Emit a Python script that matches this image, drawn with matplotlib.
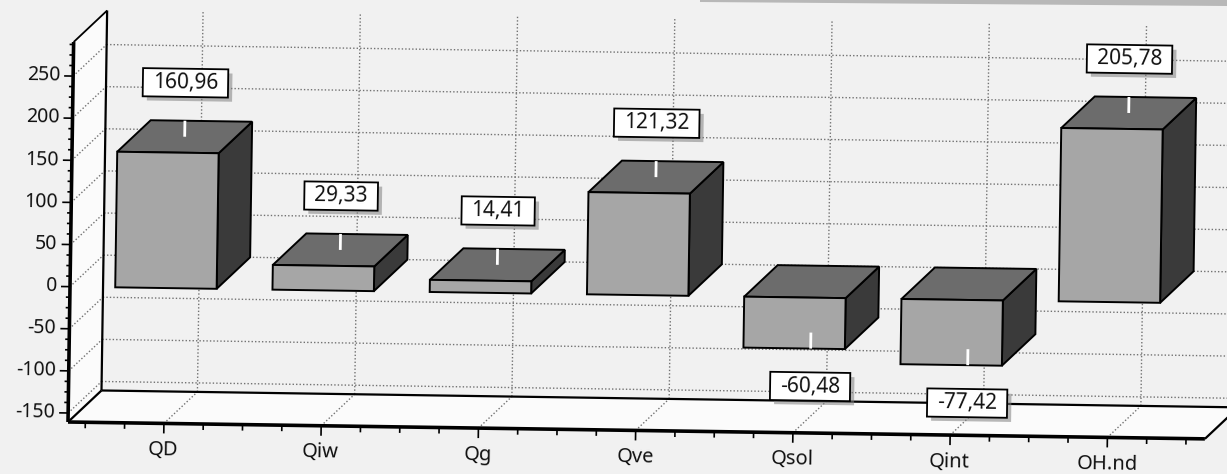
import matplotlib
matplotlib.use("Agg")
import matplotlib.pyplot as plt
import matplotlib.patheffects as pe
from matplotlib.patches import Polygon
from matplotlib.transforms import Affine2D
import numpy as np

categories = ['QD', 'Qiw', 'Qg', 'Qve', 'Qsol', 'Qint', 'OH.nd']
values = [160.96, 29.33, 14.41, 121.32, -60.48, -77.42, 205.78]
y_ticks = [-150, -100, -50, 0, 50, 100, 150, 200, 250]

plt.rcParams['font.family'] = ['Noto Sans', 'DejaVu Sans']

W, H = 1227, 474
fig = plt.figure(figsize=(W / 100, H / 100), dpi=100, facecolor='#f1f1f1')
ax = fig.add_axes([68 / W, 52 / H, 1137 / W, 380 / H])
x0, x1 = -0.61, 6.62
y0, y1 = -160.7, 290.4
ax.set_xlim(x0, x1)
ax.set_ylim(y0, y1)
ax.axis('off')

# the whole sheet is a little tilted
ang = -0.85
tilt = Affine2D().rotate_deg_around(68, 52, ang)
T = ax.transData + tilt

# depth of the 3d box (data units)
dx, dy = 0.21, 38.0


def poly(pts, **kw):
    ax.add_patch(Polygon(pts, closed=True, transform=T, clip_on=False, **kw))


def line(xs, ys, **kw):
    ax.plot(xs, ys, transform=T, clip_on=False, solid_capstyle='butt', **kw)


# walls
poly([(x0, y0), (x0, y1), (x0 + dx, y1 + dy), (x0 + dx, y0 + dy)], fc='#fbfbfb', ec='none', zorder=0.5)
poly([(x0, y0), (x1, y0), (x1 + dx, y0 + dy), (x0 + dx, y0 + dy)], fc='#fbfbfb', ec='none', zorder=0.5)

# dotted grid
grid = dict(color='#727272', lw=1.0, ls=(0, (1, 1.5)), zorder=1)
for t in y_ticks:
    line([x0, x0 + dx], [t, t + dy], **grid)
    line([x0 + dx, x1 + dx], [t + dy, t + dy], **grid)
for i in range(len(categories)):
    line([i, i + dx], [y0, y0 + dy], **grid)
    line([i + dx, i + dx], [y0 + dy, y1 + dy], **grid)

# frame edges
line([x0, x0], [y0, y1], color='k', lw=2.6, zorder=1.5)
line([x0, x0 + dx], [y1, y1 + dy], color='k', lw=1.3, zorder=1.5)
line([x0 + dx, x0 + dx], [y0 + dy, y1 + dy], color='k', lw=1.6, zorder=1.5)
line([x0, x0 + dx], [y0, y0 + dy], color='k', lw=1.6, zorder=1.5)
line([x0, x1], [y0, y0], color='k', lw=2.6, zorder=1.5)
line([x0 + dx, x1 + dx], [y0 + dy, y0 + dy], color='k', lw=1.6, zorder=1.5)
line([x1, x1 + dx], [y0, y0 + dy], color='k', lw=1.6, zorder=1.5)

# y ticks
px_x = 1137 / (x1 - x0)
px_y = 380 / (y1 - y0)
for t in np.arange(-150, 290, 12.5):
    ln = 9 if t in y_ticks else 4
    line([x0 - ln / px_x, x0], [t, t], color='k', lw=1.2, zorder=1.5)
for t in y_ticks:
    ax.text(x0 - 13 / px_x, t, str(t), transform=T, ha='right', va='center',
            fontsize=14, color='#111111', rotation=ang, rotation_mode='anchor')

# x ticks
for k in np.arange(-0.5, 6.51, 0.25):
    ln = 10 if abs(k - round(k)) < 1e-9 else 6
    line([k, k], [y0, y0 - ln / px_y], color='k', lw=1.2, zorder=1.5)
for i, c in enumerate(categories):
    ax.text(i, y0 - 17 / px_y, c, transform=T, ha='center', va='top',
            fontsize=14.5, color='#111111', rotation=ang, rotation_mode='anchor')

# bars
w = 0.645
front, top, side = '#a6a6a6', '#6c6c6c', '#3a3a3a'
edge = dict(ec='k', lw=1.4, joinstyle='miter', zorder=3)
for i, v in enumerate(values):
    a, b = i - w / 2, i + w / 2
    lo, hi = min(v, 0), max(v, 0)
    poly([(b, lo), (b + dx, lo + dy), (b + dx, hi + dy), (b, hi)], fc=side, **edge)
    poly([(a, hi), (b, hi), (b + dx, hi + dy), (a + dx, hi + dy)], fc=top, **edge)
    poly([(a, lo), (b, lo), (b, hi), (a, hi)], fc=front, **edge)

# value labels with a drop shadow
shadow = [pe.SimplePatchShadow(offset=(3, -3), shadow_rgbFace='#808080', alpha=0.55), pe.Normal()]
for i, v in enumerate(values):
    cx = i + dx / 2
    cy = v + dy / 2
    s = 1 if v >= 0 else -1
    line([cx, cx], [cy, cy + s * 19], color='white', lw=2, zorder=4)
    ly = cy + s * 64
    txt = f'{v:.2f}'.replace('.', ',')
    t = ax.text(cx, ly, txt, transform=T, color='#111111',
                ha='center', va='center', fontsize=15, rotation=ang, rotation_mode='anchor',
                bbox=dict(boxstyle='square,pad=0.48', mutation_aspect=0.36,
                          fc='white', ec='black', lw=1.3), zorder=6)
    t.get_bbox_patch().set_path_effects(shadow)

# scanner edge at the top right
fig.add_artist(Polygon([(700 / W, 1), (1, 1), (1, (H - 6) / H), (700 / W, (H - 2) / H)],
                       closed=True, transform=fig.transFigure, fc='#b8b8b8', ec='none'))

ax.set_xlim(x0, x1)
ax.set_ylim(y0, y1)
fig.savefig('out.png', dpi=100, facecolor=fig.get_facecolor())
